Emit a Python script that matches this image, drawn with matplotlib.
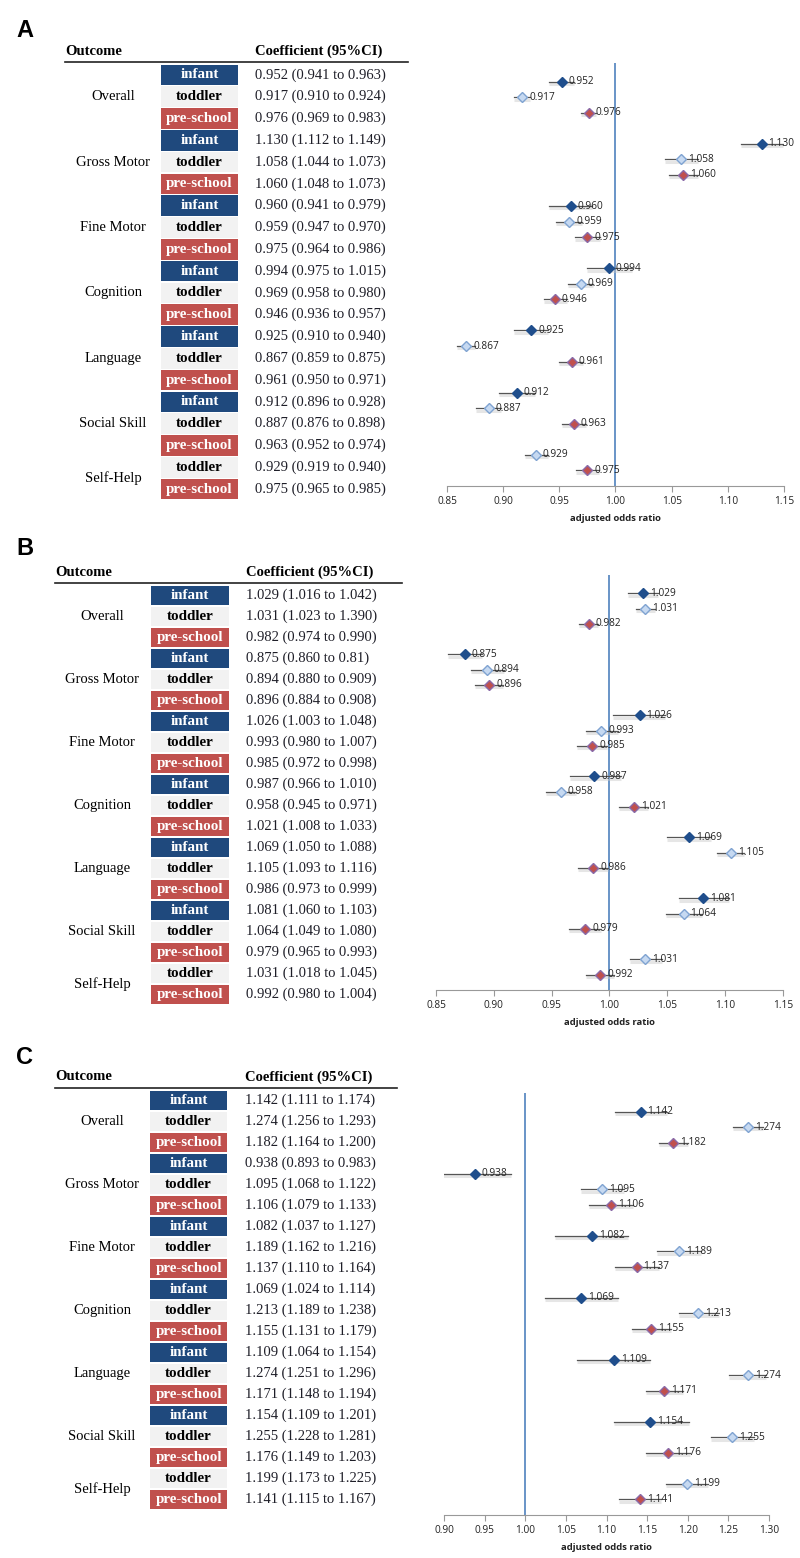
import numpy as np
import matplotlib.pyplot as plt
from matplotlib.patches import Rectangle
from matplotlib.ticker import FormatStrFormatter

plt.rcParams.update({'font.size': 8})

# rows of the tables (same for all three panels)
groups = ["Overall", "Gross Motor", "Fine Motor", "Cognition", "Language", "Social Skill", "Self-Help"]
ages = ["infant", "toddler", "pre-school"] * 6 + ["toddler", "pre-school"]
group_idx = [g for g in range(6) for _ in range(3)] + [6, 6]
pos_in_group = [0, 1, 2] * 6 + [0, 1]

# panel A
est_A = [0.952, 0.917, 0.976, 1.130, 1.058, 1.060, 0.960, 0.959, 0.975, 0.994,
         0.969, 0.946, 0.925, 0.867, 0.961, 0.912, 0.887, 0.963, 0.929, 0.975]
lo_A = [0.941, 0.910, 0.969, 1.112, 1.044, 1.048, 0.941, 0.947, 0.964, 0.975,
        0.958, 0.936, 0.910, 0.859, 0.950, 0.896, 0.876, 0.952, 0.919, 0.965]
hi_A = [0.963, 0.924, 0.983, 1.149, 1.073, 1.073, 0.979, 0.970, 0.986, 1.015,
        0.980, 0.957, 0.940, 0.875, 0.971, 0.928, 0.898, 0.974, 0.940, 0.985]

# panel B
est_B = [1.029, 1.031, 0.982, 0.875, 0.894, 0.896, 1.026, 0.993, 0.985, 0.987,
         0.958, 1.021, 1.069, 1.105, 0.986, 1.081, 1.064, 0.979, 1.031, 0.992]
lo_B = [1.016, 1.023, 0.974, 0.860, 0.880, 0.884, 1.003, 0.980, 0.972, 0.966,
        0.945, 1.008, 1.050, 1.093, 0.973, 1.060, 1.049, 0.965, 1.018, 0.980]
hi_B = [1.042, 1.039, 0.990, 0.890, 0.909, 0.908, 1.048, 1.007, 0.998, 1.010,
        0.971, 1.033, 1.088, 1.116, 0.999, 1.103, 1.080, 0.993, 1.045, 1.004]
# table text as printed in the source (with its typos)
table_fix_B = {1: "1.031 (1.023 to 1.390)", 3: "0.875 (0.860 to 0.81)"}

# panel C
est_C = [1.142, 1.274, 1.182, 0.938, 1.095, 1.106, 1.082, 1.189, 1.137, 1.069,
         1.213, 1.155, 1.109, 1.274, 1.171, 1.154, 1.255, 1.176, 1.199, 1.141]
lo_C = [1.111, 1.256, 1.164, 0.893, 1.068, 1.079, 1.037, 1.162, 1.110, 1.024,
        1.189, 1.131, 1.064, 1.251, 1.148, 1.109, 1.228, 1.149, 1.173, 1.115]
hi_C = [1.174, 1.293, 1.200, 0.983, 1.122, 1.133, 1.127, 1.216, 1.164, 1.114,
        1.238, 1.179, 1.154, 1.296, 1.194, 1.201, 1.281, 1.203, 1.225, 1.167]

box_col = {'infant': '#1f497d', 'toddler': '#f2f2f2', 'pre-school': '#c0504d'}
box_txt = {'infant': 'white', 'toddler': 'black', 'pre-school': 'white'}
mk_face = {'infant': '#1f4e8c', 'toddler': '#c6d9f1', 'pre-school': '#c0504d'}
mk_edge = {'infant': '#1f4e8c', 'toddler': '#7fa3d1', 'pre-school': '#8a6aa8'}

W, H = 800, 1558
fig = plt.figure(figsize=(W / 100, H / 100), dpi=100)
bg = fig.add_axes([0, 0, 1, 1])
bg.set_xlim(0, W)
bg.set_ylim(H, 0)
bg.axis('off')

serif = 'Liberation Serif'


def draw_table(letter, lay, est, lo, hi, fixes={}):
    bg.text(lay['letter'][0], lay['letter'][1], letter, fontsize=17, fontweight='bold',
            family='Liberation Sans', ha='left', va='center')
    bg.text(lay['x0'], lay['head_y'], "Outcome", fontsize=10.5, fontweight='bold',
            family=serif, ha='left', va='center')
    bg.text(lay['coef_x'], lay['head_y'], "Coefficient (95%CI)", fontsize=10.5, fontweight='bold',
            family=serif, ha='left', va='center')
    bg.plot([lay['x0'], lay['x1']], [lay['line_y'], lay['line_y']], color='#222222', lw=1.2)
    rh = lay['row_h']
    for i, age in enumerate(ages):
        top = lay['top'] + i * rh
        bg.add_patch(Rectangle((lay['bx0'], top + 0.6), lay['bx1'] - lay['bx0'], rh - 1.2,
                               facecolor=box_col[age], edgecolor='none'))
        bg.text((lay['bx0'] + lay['bx1']) / 2, top + rh / 2, age, fontsize=10.8, fontweight='bold',
                color=box_txt[age], family=serif, ha='center', va='center')
        txt = fixes.get(i, f"{est[i]:.3f} ({lo[i]:.3f} to {hi[i]:.3f})")
        bg.text(lay['coef_x'], top + rh / 2, txt, fontsize=10.5, color='#1e1e28',
                family=serif, ha='left', va='center')
    for g, name in enumerate(groups):
        rows = [i for i in range(len(ages)) if group_idx[i] == g]
        yc = lay['top'] + (np.mean(rows) + 0.5) * rh
        bg.text(lay['lab_x'], yc, name, fontsize=10.5, family=serif, ha='center', va='center')


def draw_forest(rect, xlim, est, lo, hi):
    l, r, t, b = rect
    ax = fig.add_axes([l / W, 1 - b / H, (r - l) / W, (b - t) / H])
    slots = np.array(group_idx) * 4 + np.array(pos_in_group)
    ax.set_xlim(*xlim)
    ax.set_ylim(26.0, -1.2)
    ax.axvline(1.0, color='#4f81bd', lw=1.2, zorder=1)
    for i, age in enumerate(ages):
        s = slots[i]
        ax.plot([lo[i], hi[i]], [s + 0.15, s + 0.15], color='#c8c8c8', lw=2.2, alpha=0.45,
                solid_capstyle='butt', zorder=2)
        ax.plot([lo[i], hi[i]], [s, s], color='#555555', lw=0.9, zorder=3)
        ax.plot(est[i], s, marker='D', ms=5, mfc=mk_face[age], mec=mk_edge[age], mew=1.0,
                linestyle='none', zorder=4)
        ax.annotate(f"{est[i]:.3f}", (est[i], s), xytext=(5, 0), textcoords='offset points',
                    va='center', ha='left', fontsize=7.3, family='Open Sans', color='#222222',
                    zorder=5)
    ax.set_xticks(np.arange(xlim[0], xlim[1] + 0.001, 0.05))
    ax.xaxis.set_major_formatter(FormatStrFormatter('%.2f'))
    ax.set_yticks([])
    for sp in ['top', 'right', 'left']:
        ax.spines[sp].set_visible(False)
    ax.spines['bottom'].set_color('#999999')
    ax.tick_params(axis='x', direction='out', length=4, color='#999999', labelsize=7.3,
                   pad=3, labelcolor='#222222')
    for lab in ax.get_xticklabels():
        lab.set_family('Open Sans')
    ax.set_xlabel("adjusted odds ratio", fontsize=6.8, fontweight='bold', family='Open Sans',
                  labelpad=5, color='#222222')
    ax.patch.set_alpha(0)


lay_A = dict(letter=(16, 30), x0=65, x1=408, head_y=51, line_y=62, top=64, row_h=21.8,
             bx0=161, bx1=238, coef_x=255, lab_x=113)
lay_B = dict(letter=(16, 548), x0=55, x1=402, head_y=572, line_y=583, top=585, row_h=21.0,
             bx0=151, bx1=229, coef_x=246, lab_x=102)
lay_C = dict(letter=(16, 1058), x0=55, x1=397, head_y=1077, line_y=1088, top=1090, row_h=21.0,
             bx0=150, bx1=227, coef_x=245, lab_x=102)

draw_table("A", lay_A, est_A, lo_A, hi_A)
draw_table("B", lay_B, est_B, lo_B, hi_B, table_fix_B)
draw_table("C", lay_C, est_C, lo_C, hi_C)

draw_forest((447, 784, 63, 486), (0.85, 1.15), est_A, lo_A, hi_A)
draw_forest((436, 783, 575, 990), (0.85, 1.15), est_B, lo_B, hi_B)
draw_forest((444, 769, 1093, 1515), (0.90, 1.30), est_C, lo_C, hi_C)

fig.savefig("out.png", dpi=100)
